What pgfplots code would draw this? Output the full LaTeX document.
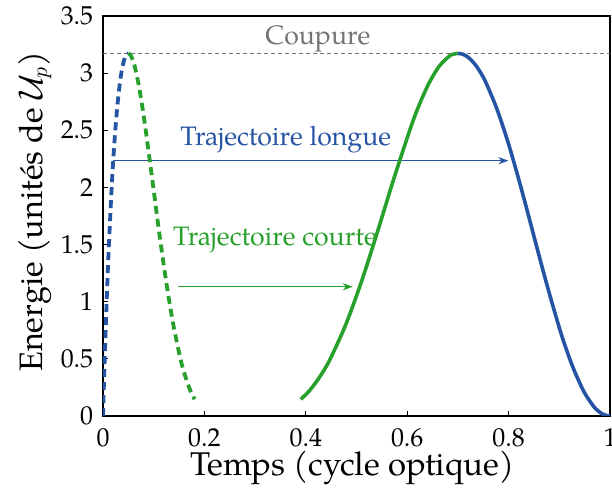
\documentclass[border=0pt]{standalone}
\usepackage{fontspec}
\setmainfont{TeX Gyre Pagella}
\usepackage{pgfplots}
\pgfplotsset{compat=1.18}
\usetikzlibrary{arrows.meta}
\definecolor{cblue}{RGB}{38,84,164}
\definecolor{cgreen}{RGB}{40,160,44}
\definecolor{cgray}{RGB}{115,115,115}
\begin{document}
\begin{tikzpicture}
\begin{axis}[
  scale only axis, width=253.5bp, height=200bp,
  xmin=0, xmax=1, ymin=0, ymax=3.5,
  xtick={0,0.2,0.4,0.6,0.8,1},
  ytick={0,0.5,1,1.5,2,2.5,3,3.5},
  tick pos=left,
  tick align=inside,
  major tick length=2.5bp,
  tick style={black, line width=0.6bp},
  axis line style={line width=1bp},
  /pgf/number format/assume math mode=true,
  ticklabel style={font=\fontsize{13}{15}\selectfont},
  xticklabel style={yshift=-2.7bp},
  yticklabel style={xshift=-1.4bp},
  xlabel={Temps (cycle optique)},
  ylabel={Energie (unités de $\mathcal{U}_p$)},
  xlabel style={at={(axis description cs:0.492,-0.15)}, anchor=base, font=\fontsize{16.5}{19}\selectfont},
  ylabel style={at={(axis description cs:-0.1203,0.511)}, anchor=base, font=\fontsize{16.3}{19}\selectfont},
]
% cutoff
\addplot[cgray, line width=0.5bp, dash pattern=on 2bp off 1.5bp] coordinates {(0,3.17) (1,3.17)};
% arrows
\addplot[cblue, line width=0.7bp, -{Stealth[length=5bp, width=3.6bp, inset=1.6bp]}] coordinates {(0.0204,2.234) (0.7995,2.234)};
\addplot[cgreen, line width=0.7bp, -{Stealth[length=5bp, width=3.6bp, inset=1.6bp]}] coordinates {(0.1473,1.131) (0.4925,1.131)};
% long trajectory, ionisation (dashed blue)
\addplot[cblue, line width=1.9bp, dash pattern=on 4bp off 2.5bp, smooth] coordinates {
(0,0) (0.000278,0.0437) (0.000556,0.0855) (0.00139,0.213) (0.00278,0.416)
(0.00417,0.610) (0.00556,0.793) (0.00833,1.135) (0.0111,1.443) (0.0167,1.964)
(0.0222,2.376) (0.0278,2.688) (0.0333,2.915) (0.0361,2.999) (0.0389,3.065)
(0.0417,3.114) (0.0444,3.148) (0.0472,3.167) (0.05,3.173)};
% short trajectory, ionisation (dashed green)
\addplot[cgreen, line width=1.9bp, dash pattern=on 4bp off 2.5bp, smooth] coordinates {
(0.05,3.173) (0.0528,3.166) (0.0556,3.149) (0.0625,3.060) (0.0694,2.919)
(0.0764,2.739) (0.0833,2.531) (0.0972,2.070) (0.1111,1.598) (0.125,1.164)
(0.1389,0.794) (0.1528,0.500) (0.1597,0.385) (0.1667,0.288) (0.1736,0.2086) (0.1806,0.146)};
% short trajectory, recombination (solid green)
\addplot[cgreen, line width=1.8bp, smooth] coordinates {
(0.390,0.146) (0.4046,0.2086) (0.419,0.288) (0.4337,0.385) (0.4483,0.500)
(0.4783,0.794) (0.5089,1.164) (0.5404,1.598) (0.5732,2.070) (0.6074,2.531)
(0.6253,2.739) (0.6438,2.919) (0.6630,3.060) (0.6830,3.149) (0.6913,3.166) (0.6998,3.173)};
% long trajectory, recombination (solid blue)
\addplot[cblue, line width=1.8bp, smooth] coordinates {
(0.6998,3.173) (0.7085,3.167) (0.7173,3.148) (0.7264,3.114) (0.7358,3.065)
(0.7455,2.999) (0.7555,2.915) (0.7768,2.688) (0.8002,2.376) (0.8266,1.964)
(0.8577,1.443) (0.8764,1.135) (0.8986,0.793) (0.9118,0.610) (0.9278,0.416)
(0.9485,0.213) (0.9674,0.0855) (0.9767,0.0437) (0.985,0.018) (0.992,0.005) (1,0)};
\node[anchor=base west, inner sep=0, text=cblue, font=\fontsize{13.4}{16}\selectfont] at (axis cs:0.1519,2.371) {Trajectoire longue};
\node[anchor=base west, inner sep=0, text=cgreen, font=\fontsize{13.4}{16}\selectfont] at (axis cs:0.1375,1.496) {Trajectoire courte};
\node[anchor=base west, inner sep=0, text=cgray, font=\fontsize{13.4}{16}\selectfont] at (axis cs:0.3195,3.255) {Coupure};
\end{axis}
\pgfresetboundingbox
\path ([shift={(-51.5bp,-36bp)}]current axis.south west) rectangle ([shift={(1bp,8bp)}]current axis.north east);
\end{tikzpicture}
\end{document}
